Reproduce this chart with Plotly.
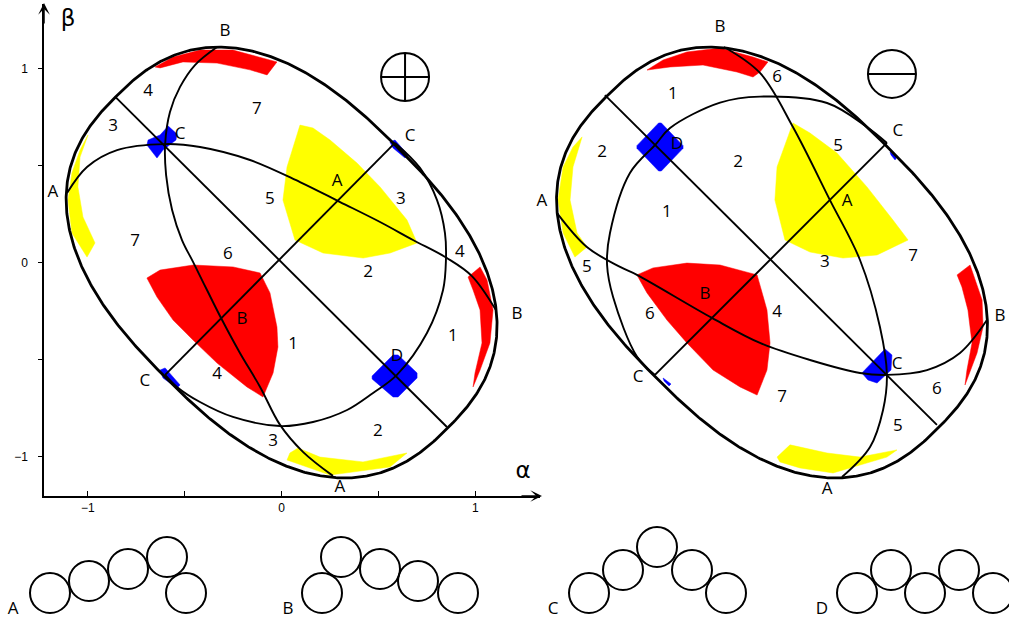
import numpy as np
import plotly.graph_objects as go

# ---------------- geometry of the domain outline (same in both panels) ----------------
OUTLINE_SEMI_MAJOR = 1.21   # along the upper-left / lower-right diagonal
OUTLINE_SEMI_MINOR = 0.843  # along the lower-left / upper-right diagonal
OUTLINE_EXPONENT = 2.5

# ---------------- left panel (with crossed circle) ----------------
L_MAJOR_X = [-0.858, 0.853]
L_MAJOR_Y = [0.855, -0.849]
L_MINOR_X = [-0.601, 0.585]
L_MINOR_Y = [-0.580, 0.617]

L_CURVE1_X = [-1.107, -1.004, -0.849, -0.601, -0.421, -0.163, 0.095, 0.302, 0.508, 0.678, 0.853, 0.982, 1.106]
L_CURVE1_Y = [0.359, 0.493, 0.580, 0.611, 0.596, 0.529, 0.415, 0.312, 0.209, 0.116, 0.023, -0.070, -0.245]

L_CURVE2_X = [-0.333, -0.447, -0.524, -0.576, -0.601, -0.596, -0.565, -0.514, -0.457, -0.385, -0.307, -0.215, -0.111, -0.008, 0.110, 0.265]
L_CURVE2_Y = [1.112, 1.019, 0.906, 0.777, 0.611, 0.451, 0.271, 0.116, 0.003, -0.142, -0.297, -0.467, -0.642, -0.838, -0.977, -1.101]

L_CIRCLE_X = [-0.601, -0.540, -0.421, -0.251, -0.008, 0.162, 0.338, 0.472, 0.595, 0.750, 0.833, 0.848, 0.843, 0.802, 0.714, 0.585]
L_CIRCLE_Y = [-0.580, -0.642, -0.720, -0.797, -0.844, -0.823, -0.761, -0.673, -0.580, -0.364, -0.142, 0.013, 0.152, 0.322, 0.488, 0.617]

L_YELLOW_BIG_X = [0.095, 0.162, 0.250, 0.389, 0.508, 0.647, 0.699, 0.560, 0.421, 0.214, 0.069, 0.007, 0.028]
L_YELLOW_BIG_Y = [0.709, 0.694, 0.632, 0.513, 0.390, 0.219, 0.101, 0.049, 0.023, 0.049, 0.116, 0.322, 0.493]
L_YELLOW_EDGE_X = [-0.999, -1.040, -1.051, -1.025, -0.963, -1.004, -1.082, -1.102, -1.082, -1.040]
L_YELLOW_EDGE_Y = [0.658, 0.544, 0.390, 0.235, 0.101, 0.028, 0.152, 0.322, 0.462, 0.580]
L_YELLOW_BOTTOM_X = [0.043, 0.085, 0.198, 0.420, 0.647, 0.559, 0.250, 0.028]
L_YELLOW_BOTTOM_Y = [-0.983, -0.957, -1.004, -1.029, -0.983, -1.055, -1.097, -1.019]
L_RED_BIG_X = [-0.695, -0.627, -0.456, -0.250, -0.111, -0.060, -0.024, -0.019, -0.044, -0.096, -0.179, -0.333, -0.457, -0.560, -0.643]
L_RED_BIG_Y = [-0.080, -0.039, -0.013, -0.023, -0.054, -0.157, -0.333, -0.436, -0.570, -0.694, -0.642, -0.519, -0.400, -0.297, -0.178]
L_RED_TOP_X = [-0.653, -0.560, -0.421, -0.251, -0.024, -0.075, -0.163, -0.333, -0.509, -0.627]
L_RED_TOP_Y = [1.009, 1.060, 1.096, 1.096, 1.035, 0.968, 0.994, 1.029, 1.035, 1.004]
L_RED_EDGE_X = [0.962, 1.024, 1.060, 1.091, 1.075, 1.024, 0.988, 0.998, 1.034, 1.024, 0.988]
L_RED_EDGE_Y = [-0.075, -0.023, -0.090, -0.245, -0.415, -0.555, -0.642, -0.570, -0.415, -0.245, -0.142]
L_BLUE_C1_X = [-0.695, -0.643, -0.612, -0.545, -0.540, -0.585, -0.627, -0.689]
L_BLUE_C1_Y = [0.606, 0.539, 0.580, 0.632, 0.663, 0.704, 0.658, 0.632]
L_BLUE_C2_X = [0.559, 0.585, 0.652, 0.637, 0.575]
L_BLUE_C2_Y = [0.622, 0.632, 0.555, 0.539, 0.591]
L_BLUE_C3_X = [-0.627, -0.601, -0.524, -0.540, -0.612]
L_BLUE_C3_Y = [-0.555, -0.544, -0.632, -0.648, -0.596]
L_BLUE_D_X = [0.467, 0.575, 0.601, 0.699, 0.699, 0.601, 0.575, 0.467]
L_BLUE_D_Y = [-0.586, -0.477, -0.477, -0.570, -0.596, -0.694, -0.694, -0.601]

L_LABEL_TEXT = ["4", "7", "3", "C", "A", "5", "7", "6", "B", "C", "A", "3", "4", "2",
                "B", "1", "C", "4", "3", "1", "D", "B", "2", "A"]
L_LABEL_X = [-0.689, -0.127, -0.869, -0.524, -1.180, -0.060, -0.756, -0.277, -0.292, 0.663, 0.286, 0.616, 0.920, 0.446,
             -0.204, 0.059, -0.705, -0.333, -0.044, 0.884, 0.595, 1.215, 0.497, 0.301]
L_LABEL_Y = [0.880, 0.787, 0.699, 0.658, 0.359, 0.322, 0.106, 0.039, 1.189, 0.648, 0.415, 0.322, 0.049, -0.054,
             -0.297, -0.425, -0.617, -0.580, -0.926, -0.384, -0.488, -0.271, -0.874, -1.164]
L_SYMBOL_XY = [0.637, 0.957]

# ---------------- right panel (with barred circle) ----------------
R_MAJOR_X = [-0.862, 0.851]
R_MAJOR_Y = [0.864, -0.838]
R_MINOR_X = [-0.604, 0.593]
R_MINOR_Y = [-0.580, 0.617]

R_CURVE1_X = [-1.109, -0.955, -0.784, -0.697, -0.310, -0.062, 0.196, 0.454, 0.593, 0.800, 0.970, 1.109]
R_CURVE1_Y = [0.255, 0.080, -0.023, -0.064, -0.286, -0.415, -0.503, -0.570, -0.580, -0.555, -0.467, -0.297]

R_CURVE2_X = [-0.248, -0.062, 0.108, 0.299, 0.454, 0.557, 0.593, 0.573, 0.506, 0.361]
R_CURVE2_Y = [1.112, 0.978, 0.699, 0.322, 0.013, -0.333, -0.580, -0.761, -0.952, -1.107]

R_CIRCLE_X = [-0.604, -0.697, -0.820, -0.851, -0.836, -0.733, -0.599, -0.526, -0.268, -0.062, 0.284, 0.490, 0.593]
R_CIRCLE_Y = [-0.580, -0.485, -0.178, -0.013, 0.152, 0.462, 0.611, 0.694, 0.825, 0.856, 0.823, 0.699, 0.617]

R_YELLOW_BIG_X = [0.108, 0.196, 0.335, 0.490, 0.624, 0.702, 0.542, 0.366, 0.196, 0.067, 0.015, 0.026]
R_YELLOW_BIG_Y = [0.720, 0.668, 0.565, 0.390, 0.219, 0.116, 0.039, 0.023, 0.054, 0.116, 0.322, 0.493]
R_YELLOW_EDGE_X = [-0.980, -1.027, -1.042, -1.006, -0.955, -1.017, -1.078, -1.104, -1.078, -1.027]
R_YELLOW_EDGE_Y = [0.648, 0.493, 0.322, 0.152, 0.080, 0.028, 0.152, 0.322, 0.493, 0.596]
R_YELLOW_BOTTOM_X = [0.026, 0.093, 0.284, 0.454, 0.645, 0.593, 0.454, 0.315, 0.144, 0.041]
R_YELLOW_BOTTOM_Y = [-1.004, -0.941, -0.983, -1.004, -0.967, -1.004, -1.045, -1.086, -1.060, -1.029]
R_RED_BIG_X = [-0.697, -0.614, -0.439, -0.268, -0.077, -0.026, -0.010, -0.026, -0.077, -0.165, -0.304, -0.439, -0.542, -0.645]
R_RED_BIG_Y = [-0.064, -0.028, -0.003, -0.013, -0.064, -0.245, -0.415, -0.555, -0.684, -0.642, -0.555, -0.415, -0.297, -0.157]
R_RED_TOP_X = [-0.645, -0.562, -0.439, -0.268, -0.098, -0.021, -0.062, -0.098, -0.181, -0.356, -0.526]
R_RED_TOP_Y = [0.993, 1.045, 1.086, 1.107, 1.060, 1.035, 0.983, 0.957, 0.983, 1.019, 1.009]
R_RED_EDGE_X = [0.955, 1.022, 1.084, 1.089, 1.058, 0.996, 1.006, 1.032, 1.011, 0.980]
R_RED_EDGE_Y = [-0.064, -0.013, -0.193, -0.333, -0.467, -0.632, -0.555, -0.415, -0.245, -0.126]
R_BLUE_D_X = [-0.697, -0.585, -0.571, -0.459, -0.459, -0.571, -0.585, -0.697]
R_BLUE_D_Y = [0.603, 0.720, 0.720, 0.603, 0.589, 0.472, 0.472, 0.589]
R_BLUE_C1_X = [0.464, 0.531, 0.583, 0.619, 0.614, 0.542, 0.495]
R_BLUE_C1_Y = [-0.570, -0.503, -0.446, -0.477, -0.555, -0.622, -0.606]
R_BLUE_C2_X = [0.609, 0.645, 0.635, 0.614]
R_BLUE_C2_Y = [0.570, 0.544, 0.529, 0.555]
R_BLUE_C3_X = [-0.562, -0.521, -0.531, -0.557]
R_BLUE_C3_Y = [-0.596, -0.627, -0.637, -0.611]

R_LABEL_TEXT = ["B", "6", "1", "2", "D", "2", "A", "1", "5", "C", "5", "A", "3", "7",
                "B", "6", "4", "C", "B", "C", "6", "7", "5", "A"]
R_LABEL_X = [-0.268, 0.026, -0.511, -0.877, -0.490, -0.175, -1.187, -0.542, -0.955, 0.650, 0.341, 0.387, 0.273, 0.728,
             -0.346, -0.630, 0.026, -0.691, 1.176, 0.645, 0.851, 0.052, 0.650, 0.284]
R_LABEL_Y = [1.210, 0.952, 0.864, 0.565, 0.606, 0.513, 0.312, 0.255, -0.028, 0.673, 0.596, 0.312, -0.003, 0.028,
             -0.168, -0.271, -0.261, -0.596, -0.281, -0.529, -0.658, -0.699, -0.849, -1.174]
R_SYMBOL_XY = [0.619, 0.973]

# ---------------- axis ticks (left panel) ----------------
TICK_VALS = [-1, -0.5, 0, 0.5, 1]
TICK_TEXT = ["\u22121", "", "0", "", "1"]

# ---------------- chain diagrams below (centres, label positions) ----------------
CHAIN_NAMES = ["A", "B", "C", "D"]
CHAIN_LABEL_X = [13, 288, 553, 822]
CHAIN_LABEL_Y = [11, 11, 11, 11]
CHAIN_X = [[50, 89, 128, 167, 186], [322, 341, 380, 418, 458],
           [589, 623, 657, 692, 726], [857, 891, 925, 959, 993]]
CHAIN_Y = [[28, 40, 52, 64, 28], [28, 64, 52, 40, 28],
           [28, 51, 74, 51, 28], [28, 51, 28, 51, 28]]

# ======================================================================
W, H = 1009, 621
fig = go.Figure()

LABEL_FONT = dict(family="Open Sans, DejaVu Sans, sans-serif", size=17, color="black")


def outline_xy():
    t = np.linspace(0, 2 * np.pi, 721)
    c, s = np.cos(t), np.sin(t)
    u = OUTLINE_SEMI_MAJOR * np.sign(c) * np.abs(c) ** (2 / OUTLINE_EXPONENT)
    v = OUTLINE_SEMI_MINOR * np.sign(s) * np.abs(s) ** (2 / OUTLINE_EXPONENT)
    r2 = np.sqrt(2)
    return (v - u) / r2, (u + v) / r2


def add_fill(xs, ys, color, xa, ya):
    fig.add_trace(go.Scatter(x=xs + xs[:1], y=ys + ys[:1], mode="lines", fill="toself",
                             fillcolor=color, line=dict(width=0.5, color=color),
                             xaxis=xa, yaxis=ya, hoverinfo="skip", showlegend=False))


def add_curve(xs, ys, xa, ya, width=1.9, spline=True):
    fig.add_trace(go.Scatter(x=xs, y=ys, mode="lines",
                             line=dict(color="black", width=width,
                                       shape="spline" if spline else "linear", smoothing=1.0),
                             xaxis=xa, yaxis=ya, hoverinfo="skip", showlegend=False))


def add_panel(P, xa, ya):
    for key, col in [("YELLOW_BIG", "#ffff00"), ("YELLOW_EDGE", "#ffff00"), ("YELLOW_BOTTOM", "#ffff00"),
                     ("RED_BIG", "#ff0000"), ("RED_TOP", "#ff0000"), ("RED_EDGE", "#ff0000")]:
        add_fill(P[key + "_X"], P[key + "_Y"], col, xa, ya)
    for key in P["BLUE"]:
        add_fill(P[key + "_X"], P[key + "_Y"], "#0000ff", xa, ya)
    add_curve(P["MAJOR_X"], P["MAJOR_Y"], xa, ya, spline=False)
    add_curve(P["MINOR_X"], P["MINOR_Y"], xa, ya, spline=False)
    add_curve(P["CURVE1_X"], P["CURVE1_Y"], xa, ya)
    add_curve(P["CURVE2_X"], P["CURVE2_Y"], xa, ya)
    add_curve(P["CIRCLE_X"], P["CIRCLE_Y"], xa, ya)
    ox, oy = outline_xy()
    fig.add_trace(go.Scatter(x=ox, y=oy, mode="lines", line=dict(color="black", width=2.8),
                             xaxis=xa, yaxis=ya, hoverinfo="skip", showlegend=False))
    fig.add_trace(go.Scatter(x=P["LABEL_X"], y=P["LABEL_Y"], text=P["LABEL_TEXT"], mode="text",
                             textfont=LABEL_FONT, cliponaxis=False, xaxis=xa, yaxis=ya,
                             hoverinfo="skip", showlegend=False))


G = globals()
left = {k[2:]: v for k, v in G.items() if k.startswith("L_")}
left["BLUE"] = ["BLUE_C1", "BLUE_C2", "BLUE_C3", "BLUE_D"]
right = {k[2:]: v for k, v in G.items() if k.startswith("R_")}
right["BLUE"] = ["BLUE_D", "BLUE_C1", "BLUE_C2", "BLUE_C3"]

add_panel(left, "x", "y")
add_panel(right, "x2", "y2")

# crossed circle / barred circle symbols
fig.add_trace(go.Scatter(x=[L_SYMBOL_XY[0]], y=[L_SYMBOL_XY[1]], mode="markers",
                         marker=dict(symbol="circle-cross-open", size=48, color="black",
                                     line=dict(width=2, color="black")),
                         xaxis="x", yaxis="y", hoverinfo="skip", showlegend=False))
fig.add_trace(go.Scatter(x=[R_SYMBOL_XY[0]], y=[R_SYMBOL_XY[1]], mode="markers",
                         marker=dict(symbol="circle-open", size=48, color="black",
                                     line=dict(width=2, color="black")),
                         xaxis="x2", yaxis="y2", hoverinfo="skip", showlegend=False))
fig.add_trace(go.Scatter(x=[R_SYMBOL_XY[0]], y=[R_SYMBOL_XY[1]], mode="markers",
                         marker=dict(symbol="line-ew-open", size=34.3, color="black",
                                     line=dict(width=2, color="black")),
                         xaxis="x2", yaxis="y2", hoverinfo="skip", showlegend=False))

# axis names
fig.add_trace(go.Scatter(x=[1.246, -1.102], y=[-1.081, 1.251], text=["\u03b1", "\u03b2"], mode="text",
                         textfont=dict(family="DejaVu Sans, sans-serif", size=23, color="black"),
                         cliponaxis=False, xaxis="x", yaxis="y", hoverinfo="skip", showlegend=False))

# chain diagrams
for name, lx, ly, cx, cy in zip(CHAIN_NAMES, CHAIN_LABEL_X, CHAIN_LABEL_Y, CHAIN_X, CHAIN_Y):
    fig.add_trace(go.Scatter(x=cx, y=cy, mode="markers",
                             marker=dict(symbol="circle-open", size=40, color="black",
                                         line=dict(width=2, color="black")),
                             xaxis="x3", yaxis="y3", hoverinfo="skip", showlegend=False))
    fig.add_trace(go.Scatter(x=[lx], y=[ly], text=[name], mode="text", textfont=LABEL_FONT,
                             cliponaxis=False, xaxis="x3", yaxis="y3", hoverinfo="skip", showlegend=False))

# ---------------- layout ----------------
S = 193.8  # px per data unit
CX_L, CX_R, CY = 281.6, 772.0, 262.5
PX_L0, PX_L1, PX_R0, PY_TOP, PY_BOT = 44, 540, 535, 4, 496

tickfont = dict(family="Liberation Sans, Arial, sans-serif", size=12, color="black")
fig.update_layout(
    width=W, height=H, margin=dict(l=0, r=0, t=0, b=0),
    paper_bgcolor="white", plot_bgcolor="rgba(0,0,0,0)", showlegend=False,
    xaxis=dict(domain=[PX_L0 / W, PX_L1 / W],
               range=[(PX_L0 - CX_L) / S, (PX_L1 - CX_L) / S],
               showline=True, linecolor="black", linewidth=1.5, mirror=False,
               ticks="inside", ticklen=5, tickwidth=1.2, tickcolor="black",
               tickvals=TICK_VALS, ticktext=TICK_TEXT, tickfont=tickfont,
               showgrid=False, zeroline=False, anchor="y", fixedrange=True, automargin=False),
    yaxis=dict(domain=[(H - PY_BOT) / H, (H - PY_TOP) / H],
               range=[(CY - PY_BOT) / S, (CY - PY_TOP) / S],
               showline=True, linecolor="black", linewidth=1.5, mirror=False,
               ticks="outside", ticklen=4, tickwidth=1.2, tickcolor="black",
               tickvals=TICK_VALS, ticktext=TICK_TEXT, tickfont=tickfont, ticklabelstandoff=8,
               showgrid=False, zeroline=False, anchor="x", fixedrange=True, automargin=False),
    xaxis2=dict(domain=[PX_R0 / W, 1.0], range=[(PX_R0 - CX_R) / S, (W - CX_R) / S],
                visible=False, anchor="y2", fixedrange=True),
    yaxis2=dict(domain=[(H - PY_BOT) / H, (H - PY_TOP) / H],
                range=[(CY - PY_BOT) / S, (CY - PY_TOP) / S],
                visible=False, anchor="x2", fixedrange=True),
    xaxis3=dict(domain=[0, 1], range=[0, W], visible=False, anchor="y3", fixedrange=True),
    yaxis3=dict(domain=[0, 121 / H], range=[0, 121], visible=False, anchor="x3", fixedrange=True),
)

# arrow heads on the alpha / beta axes
fig.add_annotation(xref="paper", yref="paper", x=PX_L1 / W + 2 / W, y=(H - PY_BOT) / H,
                   ax=-22, ay=0, showarrow=True, arrowhead=3, arrowsize=1.3, arrowwidth=1.5,
                   arrowcolor="black", text="")
fig.add_annotation(xref="paper", yref="paper", x=PX_L0 / W, y=(H - PY_TOP + 1) / H,
                   ax=0, ay=22, showarrow=True, arrowhead=3, arrowsize=1.3, arrowwidth=1.5,
                   arrowcolor="black", text="")

fig.write_html("out.html", config={"displayModeBar": False},
               post_script="document.body.style.margin='0';document.body.style.overflow='hidden';")
